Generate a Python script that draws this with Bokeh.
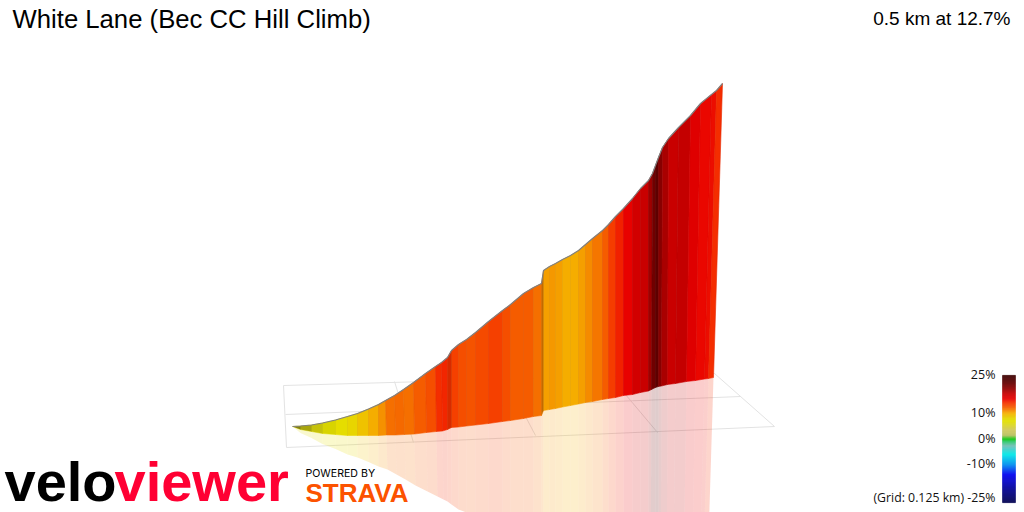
import numpy as np
from bokeh.core.properties import value
from bokeh.embed import file_html
from bokeh.models import ColumnDataSource, LinearColorMapper, Range1d
from bokeh.plotting import figure
from bokeh.resources import INLINE

title = "White Lane (Bec CC Hill Climb)"
summary = "0.5 km at 12.7%"

# Projected ribbon: crest and foot of each strip boundary
crest_x = [292,300,311,322,335,347,357,368,378,385,394,403,413,425,435,441,447,451,458,466,475,488,502,510,523,533,541,543,549,555,562,570,578,585,592,602,608,615,623,632,640,648,652,655,658,662,668,678,690,700,711,716,722]
crest_y = [426,425.5,424.5,422.5,419.5,416,413,408.5,404,400,395,389,382,373,366,362,357,350,344,339,332,321,310,304,293,287,283,270,266,263,259,255,250,244,238,230,224,216,208,198,188,180,173,165,157,147,138,127,115,103,94,90,83]
foot_x = [292,300,311,322,335,347,357,368,378,386,395,404,414,426,436,442,447,451,458,466,475,488,502,510,523,533,541,543,549,555,562,570,578,585,592,602,608,615,623,632,640,648,651,655,658,661,667,675,686,695,704,708,713]
foot_y = [426,429,431,433,434,435,435,435,435,434.5,434.5,434,433.5,432,431,430.5,429,427,426.5,425.5,424.5,423,421,420,418,416,415,410,409,408,406.5,405,403.5,402,401,399,398,397,395,394,392,390.5,389,387,386,385.5,384,383,381,380,378.5,378,377]
# Gradient (%) of each strip
grade = [6.2,6.4,6.6,7,7.8,8.3,9.2,10.3,11,12,12.2,12.1,12.6,13.2,14.5,14.8,14.3,13.8,13.2,12.9,13.3,13.8,13.1,12.5,12.6,12.1,11.5,10.7,10.8,10.6,10.3,10.2,10.7,11.2,11.9,12.6,14,15,16,17.2,17.8,19.5,21.5,22.5,20.5,19,17.8,18,16.5,15.8,15.5,14.5]
# Side-light shading of each strip
shade = [0.4,0.25,0.12,0.05, 0,0,0,0,0,0,0,0,0,0,0,0, 0.12, 0,0,0,0,0,0,0,0,0, 0.2, 0,0,0,0,0,0,0,0,0,0,0,0,0,0,0,0,0,0,0,0,0,0,0,0,0]

# Floor grid
grid_back_x = [283,394,505,609,714]
grid_back_y = [385,381,378,375,373]
grid_front_x = [286,413,535,657,774]
grid_front_y = [447,442,435,432,426]
grid_mid_x = [285,740]
grid_mid_y = [414,396]
grid_edge_x = [283,714]
grid_edge_y = [385,373]

# Colour scale
scale_grades = [25,22.5,20,18,16,14.5,12.5,10.2,8,7,3.5,1.5,0,-1,-2.6,-6,-10,-14,-20,-25]
scale_colors = ["#3d0000","#600000","#900000","#c80000","#e80000","#f53000","#f56000","#f5b000","#e6dc00","#e4e000","#d0c860","#b8c060","#10c810","#30c870","#70c0b8","#00e8e8","#0090f0","#0000f0","#000090","#000050"]
scale_ticks = [25,10,0,-10]
scale_labels = ["25%","10%","0%","-10%"]
scale_bottom_label = "(Grid: 0.125 km) -25%"

def rgb(h):
    return [int(h[i:i+2],16) for i in (1,3,5)]

g_asc = np.linspace(-25,25,256)
stops = np.array([rgb(c) for c in scale_colors])[::-1]
gs = np.array(scale_grades)[::-1]
palette = ["#%02x%02x%02x" % tuple(int(round(np.interp(g,gs,stops[:,k]))) for k in range(3)) for g in g_asc]
mapper = LinearColorMapper(palette=palette, low=-25, high=25)
cmap = {"field":"grade","transform":mapper}

p = figure(width=1024,height=512,x_range=Range1d(0,1024),y_range=Range1d(512,0),
           output_backend="svg",toolbar_location=None,min_border=0,outline_line_color=None,
           background_fill_color="white",border_fill_color="white")
p.axis.visible=False
p.grid.visible=False

GRID="#e3e3e3"
p.segment(grid_back_x,grid_back_y,grid_front_x,grid_front_y,line_color=GRID,line_width=1)
p.segment(grid_mid_x[:1],grid_mid_y[:1],grid_mid_x[1:],grid_mid_y[1:],line_color=GRID,line_width=1)
p.segment(grid_edge_x[:1],grid_edge_y[:1],grid_edge_x[1:],grid_edge_y[1:],line_color=GRID,line_width=1)
p.segment(grid_front_x[:1],grid_front_y[:1],grid_front_x[-1:],grid_front_y[-1:],line_color=GRID,line_width=1)

xt,yt,xf,yf=[np.array(a,float) for a in (crest_x,crest_y,foot_x,foot_y)]
xr=2*xf-xt; yr=2*yf-yt
n=len(grade)
wall=ColumnDataSource(dict(
    xs=[[xt[i],xt[i+1],xf[i+1],xf[i]] for i in range(n)],
    ys=[[yt[i],yt[i+1],yf[i+1],yf[i]] for i in range(n)],grade=grade,shade=shade))
mirror=ColumnDataSource(dict(
    xs=[[xf[i],xf[i+1],xr[i+1],xr[i]] for i in range(n)],
    ys=[[yf[i],yf[i+1],yr[i+1],yr[i]] for i in range(n)],grade=grade))
p.patches("xs","ys",source=mirror,fill_color=cmap,fill_alpha=0.2,line_alpha=0)
p.patches("xs","ys",source=wall,fill_color=cmap,line_color=cmap,line_width=0.6)
p.patches("xs","ys",source=wall,fill_color="#000000",fill_alpha="shade",line_alpha=0)
p.segment(crest_x,crest_y,foot_x,foot_y,line_color="#000000",line_alpha=0.05,line_width=0.7)
p.line(crest_x,crest_y,line_color="#808080",line_width=1.2)

# Colour bar
bar_g=g_asc
step=bar_g[1]-bar_g[0]
BAR0=438.5; K=2.54
bar=ColumnDataSource(dict(top=[BAR0-(g+step/2)*K for g in bar_g],bottom=[BAR0-(g-step/2)*K for g in bar_g],grade=list(bar_g)))
p.quad(left=1002,right=1015,top="top",bottom="bottom",source=bar,fill_color=cmap,line_color=cmap,line_width=0.3)

def label(x,y,t,font,size,color="#000000",align="left",style="normal"):
    # y is the wanted baseline
    px=float(size.replace("px",""))
    p.text([x],[y-0.39*px],text=[t],text_font=value(font),text_font_size=size,text_color=color,text_align=align,
           text_font_style=style,text_baseline="alphabetic")

label(12,29,title,"Liberation Sans","25.7px")
label(1010,25,summary,"Liberation Sans","19px",align="right")
LEG="Open Sans"
for g,t in zip(scale_ticks,scale_labels):
    label(995,BAR0-g*K+4,t,LEG,"12.5px",color="#111111",align="right")
label(995,BAR0+25*K-0.5,scale_bottom_label,LEG,"12.3px",color="#111111",align="right")

label(4,503,"velo","Liberation Sans","56px",style="bold")
label(114,503,"viewer","Liberation Sans","56px",color="#ff0033",style="bold")
label(305,477,"POWERED BY","Inter","10.6px")
label(305,503,"STRAVA","Liberation Sans","26px",color="#fc5200",style="bold")

open("out.html","w").write(file_html(p,INLINE))
